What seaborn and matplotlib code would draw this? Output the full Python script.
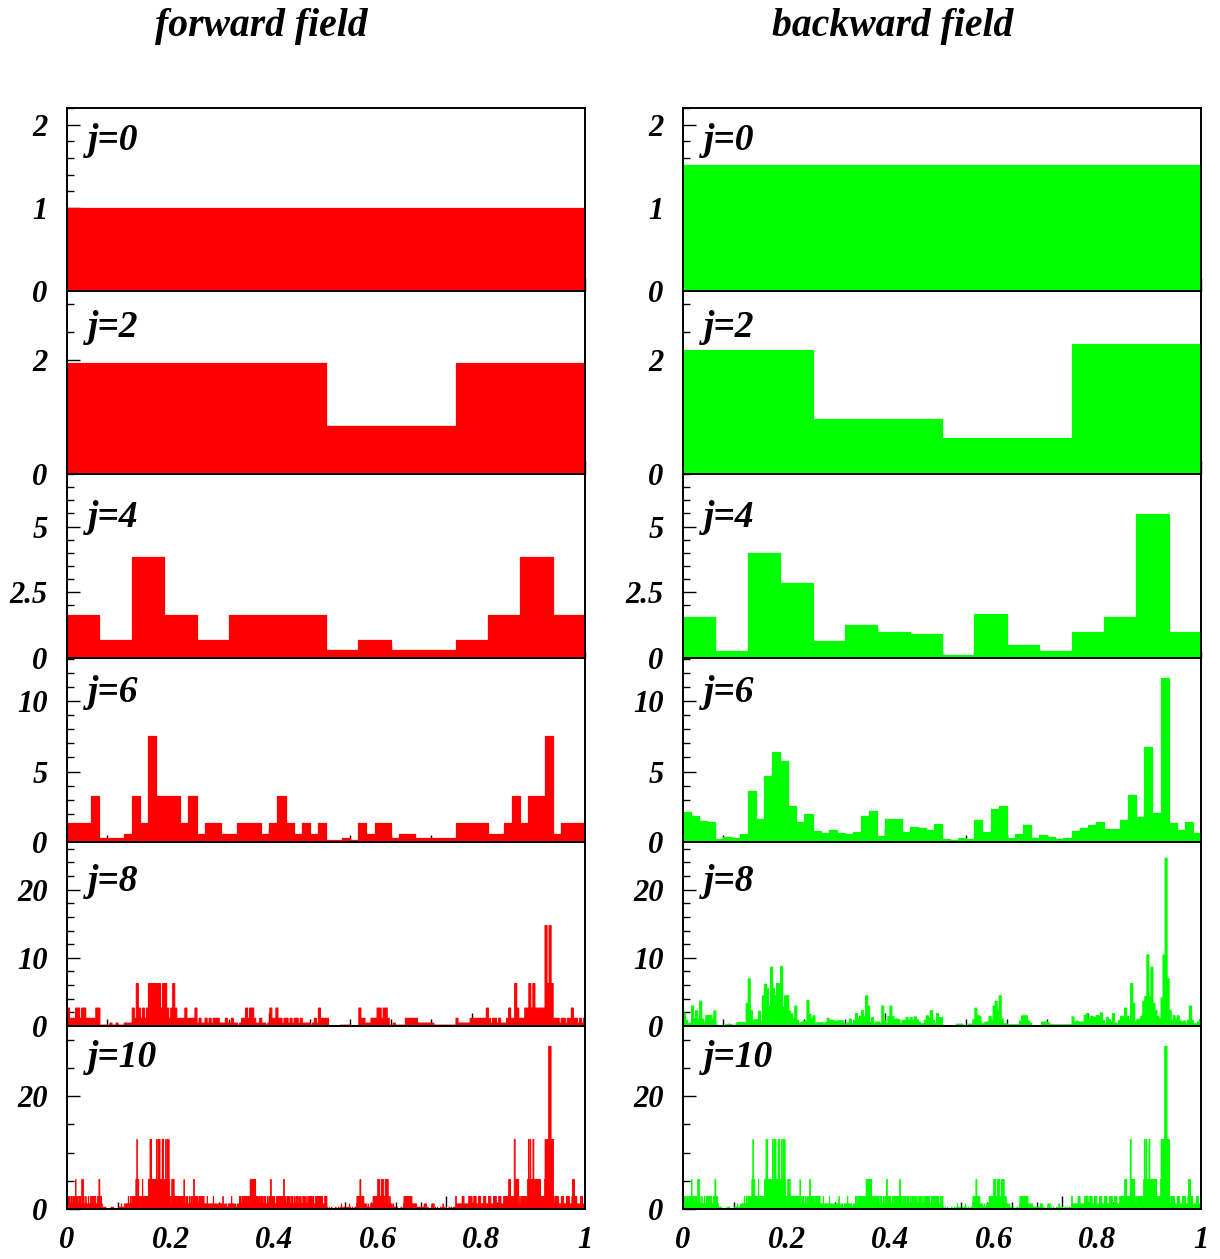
import numpy as np
import pandas as pd
import matplotlib
matplotlib.use("Agg")
import matplotlib.pyplot as plt
import seaborn as sns
from matplotlib.ticker import FixedLocator, NullFormatter

# ------------------------------------------------------------------ data
scales = [0, 2, 4, 6, 8, 10]          # resolution level j, 2**j bins on [0, 1]

forward_j0 = [1.0]
backward_j0 = [1.52]

forward_j2 = [1.96, 1.96, 0.84, 1.96]
backward_j2 = [2.19, 0.97, 0.64, 2.28]

forward_j4 = [1.64, 0.70, 3.83, 1.64, 0.70, 1.64, 1.64, 1.64,
              0.29, 0.70, 0.29, 0.29, 0.70, 1.64, 3.83, 1.64]
backward_j4 = [1.56, 0.27, 4.00, 2.84, 0.66, 1.24, 1.00, 0.93,
               0.11, 1.69, 0.50, 0.27, 1.00, 1.57, 5.47, 0.98]

forward_j6 = [1.38, 1.38, 1.38, 3.23, 0.25, 0.25, 0.25, 0.59,
              3.23, 1.38, 7.53, 3.23, 3.23, 3.23, 1.38, 3.23,
              0.59, 1.38, 1.38, 0.59, 0.59, 1.38, 1.38, 1.38,
              0.59, 1.38, 3.23, 1.38, 0.59, 1.38, 0.59, 1.38,
              0.11, 0.11, 0.25, 0.11, 1.38, 0.59, 1.38, 1.38,
              0.25, 0.59, 0.59, 0.25, 0.25, 0.25, 0.25, 0.25,
              1.38, 1.38, 1.38, 1.38, 0.59, 0.59, 1.38, 3.23,
              1.38, 3.23, 3.23, 7.53, 0.59, 1.38, 1.38, 1.38]
backward_j6 = [2.10, 1.82, 1.51, 1.45, 0.20, 0.33, 0.26, 0.55,
               3.60, 1.63, 4.70, 6.41, 5.77, 2.55, 1.42, 2.00,
               0.80, 0.66, 0.87, 0.66, 0.57, 0.69, 1.87, 2.20,
               0.40, 1.65, 1.65, 0.69, 1.06, 1.02, 0.87, 1.25,
               0.19, 0.14, 0.26, 0.21, 1.54, 0.69, 2.32, 2.55,
               0.26, 0.59, 1.23, 0.28, 0.52, 0.38, 0.24, 0.28,
               0.78, 0.97, 1.23, 1.44, 0.92, 0.92, 1.58, 3.33,
               1.80, 6.76, 2.06, 11.63, 1.35, 0.87, 1.42, 0.64]

forward_j8 = [
    2.7, 1.2, 1.2, 1.2, 2.7, 2.7, 1.2, 2.7, 2.7, 1.2, 1.2, 1.2, 1.2, 1.2, 2.7, 2.7,
    0.2, 0.2, 0.2, 0.2, 0.2, 0.5, 0.2, 0.2, 0.5, 0.2, 0.2, 0.2, 0.5, 0.5, 0.5, 0.5,
    2.7, 1.2, 6.3, 2.7, 1.2, 2.7, 1.2, 2.7, 6.3, 6.3, 6.3, 6.3, 6.3, 6.3, 2.7, 6.3,
    6.3, 2.7, 1.2, 2.7, 6.3, 2.7, 1.2, 1.2, 1.2, 1.2, 2.7, 1.2, 1.2, 1.2, 1.2, 2.7,
    0.5, 1.2, 0.5, 0.5, 1.2, 0.5, 1.2, 0.5, 1.2, 1.2, 1.2, 0.5, 0.5, 0.5, 1.2, 0.5,
    0.5, 1.2, 0.5, 0.5, 0.2, 0.5, 1.2, 1.2, 2.7, 1.2, 2.7, 2.7, 1.2, 0.5, 0.5, 1.2,
    0.5, 0.5, 0.2, 0.5, 2.7, 1.2, 1.2, 2.7, 1.2, 1.2, 0.5, 1.2, 1.2, 0.5, 1.2, 0.5,
    1.2, 1.2, 0.5, 1.2, 0.5, 0.5, 0.5, 0.5, 0.2, 0.5, 1.2, 0.5, 2.7, 1.2, 1.2, 1.2,
    1.2, 0.1, 0.1, 0.1, 0.1, 0.1, 0.1, 0.2, 0.2, 0.2, 0.2, 0.2, 0.1, 0.1, 0.1, 0.1,
    2.7, 1.2, 1.2, 0.5, 0.5, 0.5, 1.2, 1.2, 1.2, 2.7, 2.7, 1.2, 2.7, 2.7, 1.2, 0.2,
    0.2, 0.5, 0.2, 0.2, 0.2, 0.2, 0.2, 1.2, 1.2, 1.2, 1.2, 1.2, 1.2, 0.5, 0.5, 0.5,
    0.5, 0.5, 0.5, 0.5, 0.5, 0.2, 0.2, 0.2, 0.2, 0.2, 0.2, 0.2, 0.2, 0.2, 0.2, 0.2,
    1.2, 0.5, 0.5, 0.5, 0.5, 0.5, 0.5, 1.2, 1.2, 1.2, 1.2, 1.2, 1.2, 1.2, 1.2, 2.7,
    1.2, 0.5, 1.2, 1.2, 0.5, 1.2, 0.5, 0.5, 0.5, 1.2, 2.7, 1.2, 1.2, 6.3, 2.7, 1.2,
    1.2, 1.2, 2.7, 2.7, 6.3, 2.7, 6.3, 2.7, 2.7, 2.7, 2.7, 2.7, 14.8, 6.3, 14.8, 6.3,
    1.2, 1.2, 1.2, 0.5, 1.2, 1.2, 0.5, 1.2, 1.2, 2.7, 1.2, 1.2, 0.5, 1.2, 0.5, 1.2,
]
backward_j8 = [
    1.96, 0.9, 0.4, 0.5, 3.0, 1.2, 2.3, 1.1, 3.7, 1.1, 0.6, 1.6, 1.6, 1.6, 1.1, 2.3,
    0.2, 0.15, 0.1, 0.15, 0.1, 0.3, 0.35, 0.3, 0.15, 0.1, 0.5, 0.6, 0.5, 0.6, 0.5, 3.4,
    7.0, 2.35, 0.85, 1.0, 1.0, 2.25, 0.85, 4.5, 6.2, 5.6, 3.0, 8.7, 5.6, 4.5, 6.3, 6.3,
    8.8, 2.9, 4.5, 4.5, 2.25, 1.86, 1.1, 3.0, 0.85, 0.4, 0.6, 0.75, 0.75, 3.8, 1.8, 1.1,
    1.57, 0.4, 0.55, 0.55, 0.55, 0.4, 0.55, 1.2, 0.85, 0.9, 0.8, 0.8, 0.8, 0.85, 0.85, 0.4,
    0.25, 0.55, 1.08, 0.4, 0.9, 1.9, 1.2, 1.5, 2.35, 1.45, 4.5, 3.0, 0.65, 1.3, 0.4, 0.65,
    0.65, 0.4, 3.0, 0.9, 0.4, 1.45, 3.0, 1.45, 1.0, 1.1, 1.0, 0.4, 0.9, 0.9, 1.3, 0.9,
    1.3, 0.9, 1.4, 1.0, 0.65, 0.4, 0.4, 0.9, 1.57, 1.3, 2.35, 0.9, 0.4, 1.9, 1.3, 1.3,
    0.15, 0.15, 0.15, 0.15, 0.15, 0.15, 0.15, 0.35, 0.35, 0.35, 0.15, 0.15, 0.15, 0.35, 0.35, 1.0,
    2.7, 1.6, 1.5, 0.4, 0.4, 0.65, 0.65, 1.5, 0.9, 3.0, 3.7, 2.35, 4.5, 1.1, 0.4, 0.4,
    0.25, 0.25, 0.25, 0.25, 0.25, 0.25, 0.8, 1.57, 1.57, 1.57, 0.8, 0.5, 0.15, 0.15, 0.15, 0.15,
    0.15, 0.65, 0.65, 0.65, 0.5, 0.25, 0.25, 0.25, 0.25, 0.25, 0.25, 0.25, 0.25, 0.25, 0.25, 0.25,
    1.4, 0.6, 0.8, 0.65, 0.65, 0.65, 1.6, 1.9, 1.1, 1.5, 1.4, 1.3, 1.6, 1.5, 2.0, 0.9,
    0.4, 1.3, 1.0, 0.65, 1.9, 0.5, 0.4, 0.9, 1.5, 1.4, 2.7, 1.5, 0.9, 6.3, 3.4, 0.65,
    1.0, 1.1, 1.5, 3.7, 4.4, 10.5, 4.4, 8.7, 3.4, 2.35, 1.5, 1.2, 4.2, 10.5, 24.7, 7.0,
    2.35, 0.8, 1.57, 0.9, 1.57, 0.8, 0.65, 0.8, 0.4, 0.9, 3.0, 0.9, 0.4, 0.4, 0.65, 1.0,
]

# finest level, 1024 bins, 32 per line
forward_j10 = [
    2.3, 2.3, 2.3, 2.3, 2.3, 1, 1, 2.3, 1, 1, 2.3, 2.3, 2.3, 2.3, 2.3, 2.3, 5.3, 2.3, 1, 2.3, 1, 1, 2.3, 2.3, 1, 2.3, 1, 1, 5.3, 5.3, 5.3, 5.3,
    2.3, 1, 1, 1, 2.3, 1, 1, .42, 1, 2.3, 1, 1, 1, 2.3, 2.3, 2.3, 1, 2.3, 2.3, 2.3, 1, 2.3, 2.3, 2.3, 1, 1, 1, 2.3, 2.3, 2.3, 5.3, 5.3,
    2.3, 1, 2.3, 1, 1, .42, .42, .42, .42, .42, .42, .42, .18, .18, .18, .18, .18, .18, .18, .18, .18, .18, .42, .42, .42, .42, .42, .18, .18, .18, .18, .18,
    .18, .18, .18, .18, .18, .42, .42, .42, .42, .42, 1, .42, .42, .42, .42, .42, .42, 1, 1, 1, 1, 1, 1, .42, 2.3, 1, 1, 1, 2.3, 1, 1, 2.3,
    2.3, 2.3, 1, 2.3, 2.3, 2.3, 1, 5.3, 5.3, 12.4, 5.3, 2.3, 5.3, 2.3, 1, 2.3, 2.3, 1, 2.3, 2.3, 5.3, 2.3, 1, 2.3, 2.3, 1, 2.3, 1, 2.3, 2.3, 1, 2.3,
    5.3, 2.3, 5.3, 12.4, 5.3, 12.4, 5.3, 5.3, 5.3, 2.3, 5.3, 5.3, 2.3, 5.3, 5.3, 5.3, 12.4, 5.3, 5.3, 12.4, 5.3, 5.3, 12.4, 5.3, 5.3, 2.3, 5.3, 12.4, 5.3, 12.4, 5.3, 5.3,
    5.3, 2.3, 12.4, 5.3, 5.3, 12.4, 5.3, 5.3, 12.4, 5.3, 2.3, 2.3, 1, 2.3, 5.3, 5.3, 2.3, 5.3, 5.3, 2.3, 2.3, 1, 2.3, 2.3, 1, 2.3, 1, 2.3, 2.3, 1, 2.3, 1,
    2.3, 1, 2.3, 2.3, 1, 2.3, 5.3, 2.3, 1, 1, 2.3, 1, 1, 2.3, 1, .42, 1, 2.3, 1, 1, 2.3, 1, 1, 2.3, 2.3, 5.3, 5.3, 2.3, 2.3, 2.3, 1, 2.3,
    2.3, 2.3, 1, 1, 2.3, 1, 2.3, 2.3, 1, 2.3, 2.3, 2.3, 1, 2.3, 1, .42, 1, 1, .42, 1, 2.3, 1, .42, 1, 1, .42, 1, .42, 1, 1, .42, 1,
    2.3, 1, .42, 1, 1, .42, 1, .42, .42, 1, .42, .42, 1, .42, 1, 1, .42, 1, 1, 2.3, 1, .42, .42, 1, .42, .42, 1, .42, .18, .42, 1, .42,
    1, 1, .42, 1, 2.3, 1, .42, 1, .42, 1, .42, .42, 1, .42, .18, .42, 1, .42, 1, 1, 2.3, 1, 2.3, 1, 1, 2.3, 1, 2.3, 2.3, 2.3, 1, 2.3,
    2.3, 2.3, 1, 2.3, 2.3, 2.3, 1, 2.3, 2.3, 5.3, 5.3, 2.3, 5.3, 5.3, 5.3, 2.3, 5.3, 5.3, 2.3, 5.3, 2.3, 2.3, 1, 2.3, 1, 1, 2.3, 1, 2.3, 1, 1, 2.3,
    1, 2.3, 1, 1, 2.3, 2.3, 1, 2.3, 1, .42, 1, 2.3, 1, 1, 2.3, 1, 2.3, 5.3, 5.3, 2.3, 2.3, 1, 2.3, 1, 1, 2.3, 1, .42, 1, 2.3, 2.3, 1,
    2.3, 1, 2.3, 1, 2.3, 1, 2.3, 2.3, 1, 2.3, 1, 5.3, 5.3, 2.3, 1, 2.3, 1, 1, 2.3, 1, 2.3, .42, 1, 2.3, 1, 1, 2.3, 2.3, 1, 2.3, 1, .42,
    1, 2.3, 1, 1, 2.3, 2.3, 1, 2.3, .42, 1, 2.3, 1, 1, 2.3, 1, .42, 1, 2.3, 2.3, 1, 2.3, 1, 1, 2.3, 1, .42, 1, 2.3, 1, 1, 2.3, 1,
    2.3, 2.3, 1, 2.3, 1, 1, 2.3, 1, .42, 1, 2.3, 2.3, 1, 2.3, 2.3, 1, 2.3, 2.3, 1, 2.3, 2.3, 2.3, 1, 2.3, 1, 1, .42, 1, 2.3, 2.3, 1, 2.3,
    2.3, .42, .18, .18, .18, .42, .18, .18, .18, .18, .42, .18, .18, .18, .08, .18, .18, .18, .42, .18, .18, .18, .18, .42, .42, .18, .18, .18, .42, 1, .42, .42,
    .42, .18, .18, .42, .18, .18, .18, .18, .42, .18, .18, .42, .42, 1, .42, .42, .18, .18, .18, .42, .18, .18, .18, .18, .42, .18, .42, 1, 2.3, 2.3, 1, 2.3,
    2.3, 1, 5.3, 5.3, 2.3, 2.3, 1, 2.3, 1, 2.3, 1, 1, .42, 1, 1, .42, .42, .42, 1, .42, .18, .42, .42, 1, 1, .42, 1, 1, 2.3, 1, 2.3, 2.3,
    1, 2.3, 2.3, 1, 2.3, 5.3, 5.3, 2.3, 5.3, 2.3, 1, 2.3, 5.3, 5.3, 2.3, 5.3, 5.3, 2.3, 2.3, 1, 5.3, 5.3, 2.3, 5.3, 2.3, 5.3, 2.3, 1, 1, 2.3, 1, .42,
    1, 1, .42, .42, 1, .42, .18, .42, .42, .18, .18, .18, .42, .18, .18, .18, .08, .18, .18, .42, .18, .18, .18, .42, 1, 2.3, 2.3, 1, 2.3, 2.3, 2.3, 1,
    2.3, 2.3, 1, 2.3, 2.3, 2.3, 1, 2.3, 2.3, 1, 1, .42, 1, 1, .42, 1, .42, 1, .42, .42, .18, .42, .42, .18, .42, .42, .18, .42, .18, .42, .42, .18,
    .42, 1, 1, .42, 1, 1, .18, .18, .42, .18, .18, .18, .08, .18, .18, .42, 1, 1, .42, 1, 1, .18, .18, .42, .18, .18, .18, .42, .18, .18, .08, .18,
    .18, .42, .18, .18, .42, .42, 1, .42, .42, .18, .18, .18, .42, .18, .18, .08, .18, .18, .42, .18, .18, .18, .42, .18, .18, .18, .42, .18, .18, .42, .18, 2.3,
    2.3, 1, 1, 1, .42, 1, 1, .42, 1, 1, .42, 1, 2.3, 1, 2.3, 2.3, 1, 1, .42, 1, 1, 1, .42, 1, 1, 2.3, 2.3, 1, 2.3, 1, 2.3, 2.3,
    1, 1, .42, 2.3, 2.3, 1, 2.3, 2.3, 1, .42, 1, 1, 2.3, 2.3, 1, 2.3, 2.3, 1, 1, .42, 1, 1, 2.3, 2.3, 1, 2.3, 2.3, 1, 1, .42, 1, 1,
    2.3, 2.3, 1, 2.3, 2.3, 1, 1, .42, 1, 1, 2.3, 2.3, 1, 2.3, 2.3, 2.3, 1, 1, .42, 1, 2.3, 2.3, 1, 2.3, 2.3, 1, 1, .42, 1, 1, 2.3, 2.3,
    1, 2.3, 2.3, 1, 2.3, 2.3, 2.3, 1, 5.3, 5.3, 2.3, 5.3, 2.3, 2.3, 1, 2.3, 2.3, 1, 2.3, 12.4, 12.4, 5.3, 5.3, 2.3, 5.3, 5.3, 2.3, 5.3, 1, 1, 2.3, 1,
    1, 2.3, 2.3, 1, 2.3, 2.3, 2.3, 1, 2.3, 2.3, 1, 2.3, 2.3, 5.3, 5.3, 12.4, 5.3, 5.3, 12.4, 12.4, 5.3, 5.3, 2.3, 5.3, 12.4, 12.4, 5.3, 5.3, 2.3, 5.3, 5.3, 2.3,
    5.3, 5.3, 2.3, 5.3, 5.3, 2.3, 5.3, 2.3, 2.3, 1, 2.3, 2.3, 1, 2.3, 2.3, 5.3, 12.4, 12.4, 5.3, 12.4, 12.4, 5.3, 12.4, 28.9, 28.9, 28.9, 28.9, 28.9, 12.4, 12.4, 5.3, 12.4,
    12.4, 2.3, 1, 1, 2.3, 1, 2.3, 2.3, 1, 2.3, 2.3, 1, 1, .42, 1, 1, 2.3, 2.3, 1, 2.3, 2.3, 1, 1, .42, 1, 1, 2.3, 1, 2.3, 2.3, 1, 2.3,
    1, 1, .42, 1, 1, 2.3, 5.3, 5.3, 2.3, 5.3, 2.3, 2.3, 1, 2.3, 2.3, 1, 1, .42, 1, 1, .42, 1, 2.3, 2.3, 1, 2.3, 1, 1, .42, 1, 2.3, 1,
]
# at the finest level the reconstructed field equals the forward one
backward_j10 = list(forward_j10)

forward = {0: forward_j0, 2: forward_j2, 4: forward_j4, 6: forward_j6,
           8: forward_j8, 10: forward_j10}
backward = {0: backward_j0, 2: backward_j2, 4: backward_j4, 6: backward_j6,
            8: backward_j8, 10: backward_j10}

# axis settings per level: y range, labelled y ticks, minor y step,
# major / minor x tick spacing
axis_cfg = {
    0: dict(ymax=2.2, ymaj=[0, 1, 2], ymin_step=0.2, xmaj=0.2, xmin=0.05),
    2: dict(ymax=3.22, ymaj=[0, 2], ymin_step=0.5, xmaj=0.25, xmin=0.05),
    4: dict(ymax=7.0, ymaj=[0, 2.5, 5], ymin_step=0.5, xmaj=5 / 16, xmin=1 / 16),
    6: dict(ymax=13.05, ymaj=[0, 5, 10], ymin_step=1.0, xmaj=25 / 64, xmin=5 / 64),
    8: dict(ymax=27.0, ymaj=[0, 10, 20], ymin_step=2.0, xmaj=100 / 256, xmin=20 / 256),
    10: dict(ymax=32.4, ymaj=[0, 20], ymin_step=5.0, xmaj=250 / 1024, xmin=50 / 1024),
}
label_drop = {0: 42, 2: 46, 4: 53, 6: 44, 8: 49, 10: 41}   # px below panel top
edge_width = {0: 0.9, 2: 0.9, 4: 0.9, 6: 0.9, 8: 0.8, 10: 0.55}

# ------------------------------------------------------------------ style
sns.set_theme(style="ticks")
plt.rcParams["font.family"] = ["Liberation Serif", "DejaVu Serif"]
plt.rcParams["axes.linewidth"] = 1.4

RED = "#ff0000"
GREEN = "#00ff00"
FONT = dict(fontweight="bold", fontstyle="italic", color="black")

W, H = 1220, 1259
fig = plt.figure(figsize=(W / 100, H / 100), dpi=100)

row_edges = [108, 291, 474, 658, 842, 1026, 1209]
col_edges = [(67, 585), (683, 1201)]


def fmt(v):
    return str(int(v)) if float(v).is_integer() else str(v)


for col, (field, color) in enumerate([(forward, RED), (backward, GREEN)]):
    x0, x1 = col_edges[col]
    for row, j in enumerate(scales):
        top, bot = row_edges[row], row_edges[row + 1]
        ax = fig.add_axes([x0 / W, 1 - bot / H, (x1 - x0) / W, (bot - top) / H])
        vals = np.asarray(field[j], dtype=float)
        n = len(vals)
        df = pd.DataFrame({"x": (np.arange(n) + 0.5) / n, "w": vals})
        sns.histplot(data=df, x="x", weights="w", bins=n, binrange=(0, 1),
                     stat="count", element="step", fill=True, color=color,
                     alpha=1.0, edgecolor=color, linewidth=edge_width[j], ax=ax)
        cfg = axis_cfg[j]
        ax.set_xlim(0, 1)
        ax.set_ylim(0, cfg["ymax"])
        ax.set_xlabel("")
        ax.set_ylabel("")
        for s in ax.spines.values():
            s.set_visible(True)
            s.set_color("black")
            s.set_linewidth(1.4)
            s.set_zorder(5)

        # y ticks
        ax.yaxis.set_major_locator(FixedLocator(cfg["ymaj"]))
        ax.yaxis.set_minor_locator(FixedLocator(
            np.arange(0, cfg["ymax"] + 1e-9, cfg["ymin_step"])))
        ax.set_yticklabels([fmt(v) for v in cfg["ymaj"]], fontsize=22, **FONT)

        # x ticks
        ax.xaxis.set_major_locator(FixedLocator(
            np.arange(cfg["xmaj"], 1 + 1e-9, cfg["xmaj"])))
        ax.xaxis.set_minor_locator(FixedLocator(
            np.arange(cfg["xmin"], 1 + 1e-9, cfg["xmin"])))
        ax.xaxis.set_major_formatter(NullFormatter())

        ax.tick_params(which="both", direction="in", top=False, right=False,
                       color="black", width=1.0)
        ax.tick_params(which="major", length=9.5)
        ax.tick_params(which="minor", length=5)
        ax.tick_params(axis="y", which="major", pad=14)

        if row == len(scales) - 1:
            sec = ax.secondary_xaxis("bottom")
            sec.set_xticks([0, 0.2, 0.4, 0.6, 0.8, 1.0])
            sec.set_xticklabels(["0", "0.2", "0.4", "0.6", "0.8", "1"],
                                fontsize=22, **FONT)
            sec.tick_params(length=0, pad=12)
            sec.spines["bottom"].set_visible(False)

        ax.text(21 / (x1 - x0), 1 - label_drop[j] / (bot - top), f"j={j}",
                transform=ax.transAxes, ha="left", va="baseline",
                fontsize=27, **FONT)

fig.text(261 / W, 1 - 36 / H, "forward field", ha="center", va="baseline",
         fontsize=28.5, **FONT)
fig.text(893 / W, 1 - 36 / H, "backward field", ha="center", va="baseline",
         fontsize=28.5, **FONT)

fig.savefig("out.png", dpi=100, facecolor="white")
